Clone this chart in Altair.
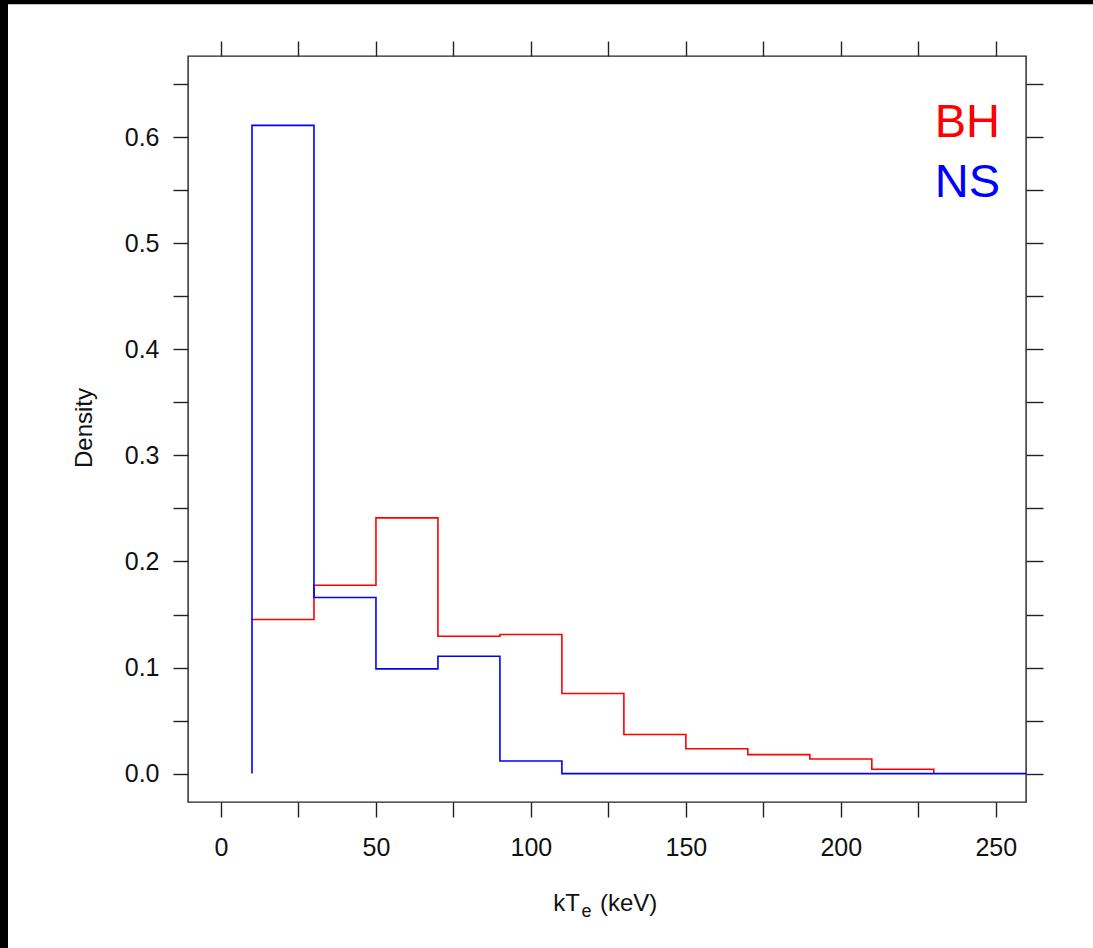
import altair as alt
import pandas as pd

# ---- data ----
bin_edges = [10, 30, 50, 70, 90, 110, 130, 150, 170, 190, 210, 230, 250]
bh_density = [0.1453, 0.1776, 0.2411, 0.1295, 0.1311, 0.0755, 0.0368, 0.0234,
              0.0179, 0.0138, 0.0041, 0.0]
ns_density = [0.6113, 0.1660, 0.0987, 0.1107, 0.0119, 0.0, 0.0, 0.0,
              0.0, 0.0, 0.0, 0.0]
ns_tail_end = 260
x_ticks = [0, 25, 50, 75, 100, 125, 150, 175, 200, 225, 250]
y_ticks = [0.0, 0.05, 0.1, 0.15, 0.2, 0.25, 0.3, 0.35, 0.4, 0.45, 0.5, 0.55, 0.6, 0.65]
legend_labels = ["BH", "NS"]
legend_colors = ["#ff0000", "#0000ff"]


def step_points(edges, dens, tail=None, stop_at_zero=False, start_at_zero=True):
    xs = [edges[0]] if start_at_zero else []
    ys = [0.0] if start_at_zero else []
    for e, d in zip(edges[:-1], dens):
        xs.append(e)
        ys.append(d)
        if stop_at_zero and d == 0:
            break
    if tail is not None:
        xs.append(tail)
        ys.append(0.0)
    return pd.DataFrame({"x": xs, "y": ys, "i": range(len(xs))})


bh_df = step_points(bin_edges, bh_density, stop_at_zero=True, start_at_zero=False)
ns_df = step_points(bin_edges, ns_density, tail=ns_tail_end, stop_at_zero=True)

FONT = "Liberation Sans"
INK = "#111111"
W, H = 838, 746
xs = alt.Scale(domain=[-10.65, 259.75], nice=False, zero=False)
ys = alt.Scale(domain=[-0.0268, 0.6767], nice=False, zero=False)

axis_common = dict(domain=False, grid=False, tickColor="#222222", tickWidth=1.4,
                   labelFont=FONT, labelFontSize=25, labelColor=INK,
                   title=None, zindex=1)

x_bottom = alt.Axis(orient="bottom", values=x_ticks, tickSize=15, labelPadding=18,
                    labelExpr="datum.value % 50 == 0 ? datum.label : ''", **axis_common)
y_left = alt.Axis(orient="left", values=y_ticks, tickSize=15, labelPadding=14,
                  labelExpr="round(datum.value*20) % 2 == 0 ? format(datum.value, '.1f') : ''",
                  **axis_common)
x_top = alt.Axis(orient="top", values=x_ticks, tickSize=15, labels=False, **axis_common)
y_right = alt.Axis(orient="right", values=y_ticks, tickSize=17, labels=False, **axis_common)

red = alt.Chart(bh_df).mark_line(interpolate="step-after", color="#ff0000",
                                  strokeWidth=1.6, clip=True).encode(
    x=alt.X("x:Q", scale=xs, axis=x_bottom),
    y=alt.Y("y:Q", scale=ys, axis=y_left),
    order="i:O",
)
blue = alt.Chart(ns_df).mark_line(interpolate="step-after", color="#0000ff",
                                   strokeWidth=1.6, clip=True).encode(
    x=alt.X("x:Q", scale=xs, axis=x_top),
    y=alt.Y("y:Q", scale=ys, axis=y_right),
    order="i:O",
)

legend_baselines = [80.7, 141.3]
legend_layers = []
for lab, col, yb in zip(legend_labels, legend_colors, legend_baselines):
    legend_layers.append(
        alt.Chart(pd.DataFrame({"t": [lab]})).mark_text(
            font=FONT, fontSize=47, align="right", baseline="alphabetic", color=col
        ).encode(x=alt.value(812), y=alt.value(yb), text="t:N")
    )

# axis titles
ytitle = alt.Chart(pd.DataFrame({"t": ["Density"]})).mark_text(
    font=FONT, fontSize=24, angle=270, align="center", baseline="alphabetic",
    color=INK).encode(x=alt.value(-96), y=alt.value(372), text="t:N")

xt1 = alt.Chart(pd.DataFrame({"t": ["kT"]})).mark_text(
    font=FONT, fontSize=24, align="left", baseline="alphabetic", color=INK
).encode(x=alt.value(365.3), y=alt.value(855), text="t:N")
xt2 = alt.Chart(pd.DataFrame({"t": ["e"]})).mark_text(
    font=FONT, fontSize=18, align="left", baseline="alphabetic", color=INK
).encode(x=alt.value(393.5), y=alt.value(861), text="t:N")
xt3 = alt.Chart(pd.DataFrame({"t": ["(keV)"]})).mark_text(
    font=FONT, fontSize=24, align="left", baseline="alphabetic", color=INK
).encode(x=alt.value(412), y=alt.value(855), text="t:N")

# black strips of the reference image's frame (top and left edges)
top_strip = alt.Chart(pd.DataFrame({"k": [0]})).mark_rect(color="black", clip=False).encode(
    x=alt.value(-188), x2=alt.value(905), y=alt.value(-56), y2=alt.value(-51.7))
left_strip = alt.Chart(pd.DataFrame({"k": [0]})).mark_rect(color="black", clip=False).encode(
    x=alt.value(-188), x2=alt.value(-180), y=alt.value(-56), y2=alt.value(892))

chart = alt.layer(
    top_strip, left_strip, red, blue, *legend_layers, ytitle, xt1, xt2, xt3
).resolve_axis(x="independent", y="independent").properties(
    width=W, height=H,
    autosize=alt.AutoSizeParams(type="none"),
    padding={"left": 188, "top": 56, "right": 67, "bottom": 146},
    background="white",
).configure_view(stroke="#222222", strokeWidth=1.4, fill="white")

chart.save("out.html", embed_options={"renderer": "svg", "actions": False})
